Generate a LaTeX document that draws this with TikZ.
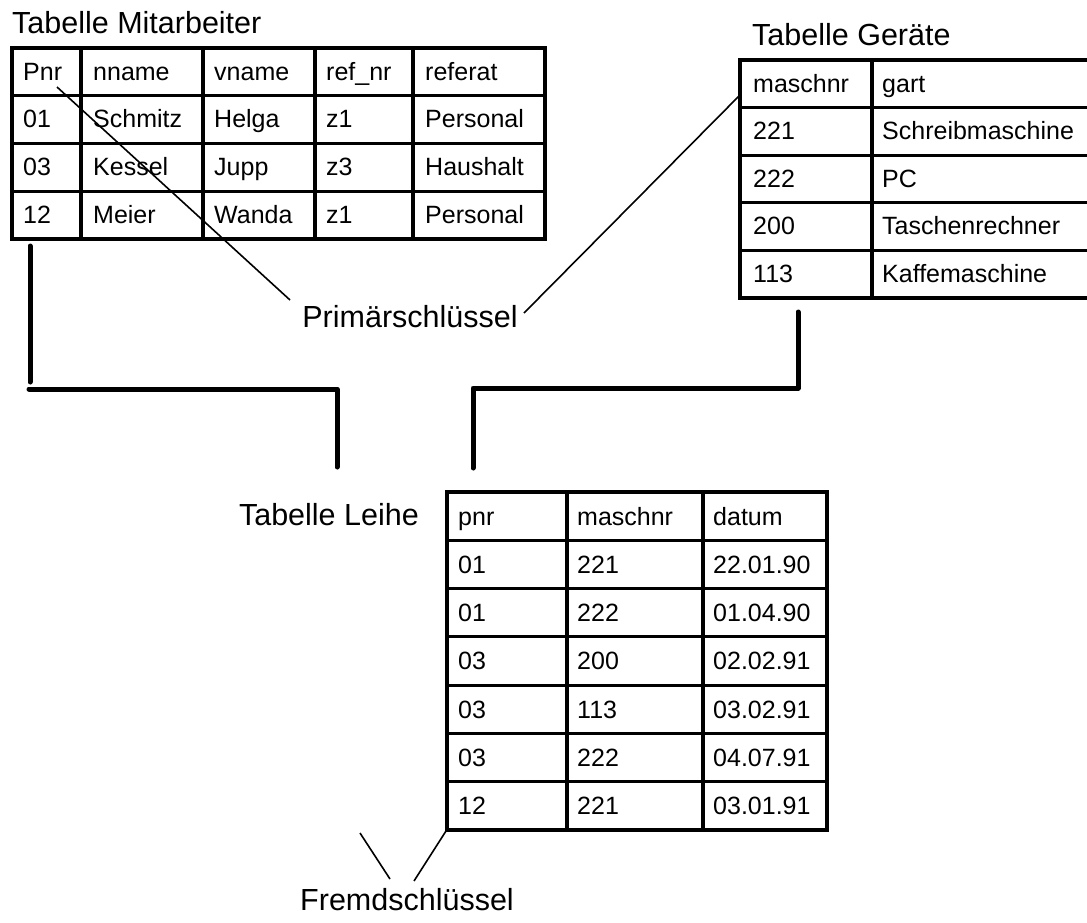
\documentclass[tikz,border=0pt]{standalone}
\usepackage{fontspec}
\setmainfont{Liberation Sans}
\begin{document}
\begin{tikzpicture}[x=1pt,y=-1pt,
  tblline/.style={line width=3.2pt},
  tcell/.style={anchor=base west, inner sep=0pt, font=\fontsize{25}{29}\selectfont},
  tcaption/.style={anchor=base, inner sep=0pt, font=\fontsize{30.5}{35}\selectfont},
  leader/.style={line width=1.6pt},
  bracket/.style={line width=5pt, line cap=round, line join=round}]
\useasboundingbox (0,0) rectangle (1087,922);

% ---------- Tabelle Mitarbeiter ----------
\node[tcaption, anchor=base west] (tmit) at (12,33) {Tabelle Mitarbeiter};
\draw[tblline] (12,48) rectangle (545,239);
\foreach \x in {81,203,315,413} \draw[tblline] (\x,48) -- (\x,239);
\foreach \y in {95.75,143.5,191.25} \draw[tblline] (12,\y) -- (545,\y);
\foreach \a/\b/\c/\d/\e [count=\i from 0] in
  {Pnr/nname/vname/ref\_nr/referat,
   01/Schmitz/Helga/z1/Personal,
   03/Kessel/Jupp/z3/Haushalt,
   12/Meier/Wanda/z1/Personal}{
  \node[tcell] (m-\i-1) at (23, {80+47.75*\i}) {\a};
  \node[tcell] (m-\i-2) at (93, {80+47.75*\i}) {\b};
  \node[tcell] (m-\i-3) at (214,{80+47.75*\i}) {\c};
  \node[tcell] (m-\i-4) at (326,{80+47.75*\i}) {\d};
  \node[tcell] (m-\i-5) at (425,{80+47.75*\i}) {\e};
}

% ---------- Tabelle Geräte ----------
\node[tcaption, anchor=base west] (tger) at (752,45) {Tabelle Geräte};
\draw[tblline] (740,60) rectangle (1090,298);
\draw[tblline] (872,60) -- (872,298);
\foreach \k in {1,2,3,4} \draw[tblline] (740,{60+47.6*\k}) -- (1090,{60+47.6*\k});
\foreach \a/\b [count=\i from 0] in
  {maschnr/gart, 221/Schreibmaschine, 222/PC, 200/Taschenrechner, 113/Kaffemaschine}{
  \node[tcell] (g-\i-1) at (753,{92+47.6*\i}) {\a};
  \node[tcell] (g-\i-2) at (882,{92+47.6*\i}) {\b};
}

% ---------- Tabelle Leihe ----------
\node[tcaption, anchor=base east] (tlei) at (419,525) {Tabelle Leihe};
\draw[tblline] (447,492) rectangle (827,830);
\foreach \x in {567,703} \draw[tblline] (\x,492) -- (\x,830);
\foreach \k in {1,...,6} \draw[tblline] (447,{492+48.29*\k}) -- (827,{492+48.29*\k});
\foreach \a/\b/\c [count=\i from 0] in
  {pnr/maschnr/datum, 01/221/22.01.90, 01/222/01.04.90, 03/200/02.02.91,
   03/113/03.02.91, 03/222/04.07.91, 12/221/03.01.91}{
  \node[tcell] (l-\i-1) at (458,{525+48.29*\i}) {\a};
  \node[tcell] (l-\i-2) at (577,{525+48.29*\i}) {\b};
  \node[tcell] (l-\i-3) at (713,{525+48.29*\i}) {\c};
}

% ---------- Primärschlüssel ----------
\node[tcaption] (prim) at (410,327) {Primärschlüssel};
\coordinate (pkA) at (57,87);
\coordinate (pkAend) at (290,300);
\coordinate (pkB) at (740,95);
\coordinate (pkBend) at (524,313);
\draw[leader] (pkA) -- (pkAend);
\draw[leader] (pkB) -- (pkBend);

% ---------- Fremdschlüssel ----------
\node[tcaption] (frem) at (407,910) {Fremdschlüssel};
\coordinate (fkA) at (360,833);
\coordinate (fkAend) at (390,879);
\coordinate (fkB) at (446,831);
\coordinate (fkBend) at (414,881);
\draw[leader] (fkA) -- (fkAend);
\draw[leader] (fkB) -- (fkBend);

% ---------- Verbindungen ----------
\coordinate (mBot) at (30,246);
\coordinate (mBotEnd) at (30,382);
\coordinate (lA1) at (29,389);
\coordinate (lA2) at (337,389);
\coordinate (lA3) at (337,467);
\draw[bracket] (mBot) -- (mBotEnd);
\draw[bracket] (lA1) -- (lA2) -- (lA3);
\coordinate (gBot) at (798,312);
\coordinate (lB1) at (798,388);
\coordinate (lB2) at (473,388);
\coordinate (lB3) at (473,468);
\draw[bracket] (gBot) -- (lB1) -- (lB2) -- (lB3);
\end{tikzpicture}
\end{document}
